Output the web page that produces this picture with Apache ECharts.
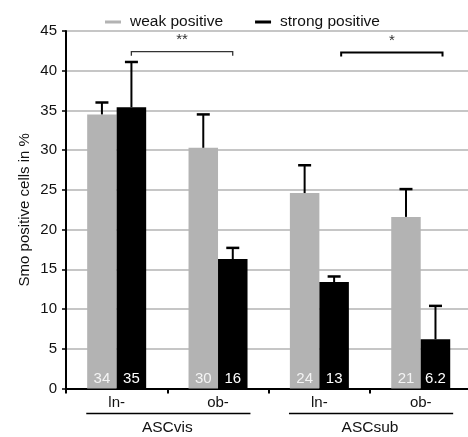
<!DOCTYPE html>
<html><head><meta charset="utf-8">
<script src="https://cdn.jsdelivr.net/npm/echarts@6/dist/echarts.min.js"></script>
<style>html,body{margin:0;padding:0;background:#fff}#c{width:468px;height:437px}</style>
</head><body><div id="c"></div>
<script>
// ---- data ----
const categories = ['ln-', 'ob-', 'ln-', 'ob-'];
const groups = ['ASCvis', 'ASCsub'];
const groupStart = [0, 2];
const groupEnd = [1, 3];
const seriesNames = ['weak positive', 'strong positive'];
const weakValues = [34.5, 30.3, 24.6, 21.6];
const strongValues = [35.4, 16.3, 13.4, 6.2];
const weakErr = [1.5, 4.2, 3.5, 3.5];
const strongErr = [5.7, 1.4, 0.7, 4.2];
const weakLabels = ['34', '30', '24', '21'];
const strongLabels = ['35', '16', '13', '6.2'];
const yMin = 0, yMax = 45, yStep = 5;
const sigFrom = [0, 2];
const sigTo = [1, 3];
const sigLevel = [42.4, 42.3];
const sigText = ['**', '*'];

// ---- styling ----
const FONT = '"Liberation Sans", Arial, sans-serif';
const GRAY = '#b3b3b3';
const BAR_W = 29.5;
const SIG_OFF = [0.145, 0.215];
const SIG_STYLE = [{stroke: '#333', lw: 1.3}, {stroke: '#000', lw: 2}];

const chart = echarts.init(document.getElementById('c'), null, {renderer: 'canvas'});

function errRender(sign) {
  return function (params, api) {
    const c = api.coord([api.value(0), api.value(1)]);
    const t = api.coord([api.value(0), api.value(1) + api.value(2)]);
    const x = c[0] + sign * BAR_W / 2;
    return {type: 'group', children: [
      {type: 'line', shape: {x1: x, y1: c[1], x2: x, y2: t[1]}, style: {stroke: '#000', lineWidth: 2}},
      {type: 'line', shape: {x1: x - 6.5, y1: t[1], x2: x + 6.5, y2: t[1]}, style: {stroke: '#000', lineWidth: 2.5}}
    ]};
  };
}

const option = {
  animation: false,
  backgroundColor: '#fff',
  textStyle: {fontFamily: FONT},
  legend: {
    show: true,
    left: 100, top: 9,
    itemWidth: 16, itemHeight: 3, itemGap: 32,
    icon: 'rect',
    textStyle: {fontSize: 15.5, color: '#111', fontFamily: FONT, padding: [0, 0, 0, 4]},
    data: seriesNames
  },
  grid: {left: 66, right: -3.4, top: 31, bottom: 48.5, containLabel: false, outerBoundsMode: 'none'},
  xAxis: [{
    type: 'category', data: categories, position: 'bottom',
    axisLine: {show: true, lineStyle: {color: '#000', width: 2}},
    axisTick: {show: true, length: 5, lineStyle: {color: '#000', width: 2}, alignWithLabel: false},
    axisLabel: {fontSize: 15, color: '#111', margin: 7, fontFamily: FONT},
    splitLine: {show: false}
  }, {
    type: 'category', data: groups, position: 'bottom', offset: 24,
    axisLine: {show: false}, axisTick: {show: false},
    axisLabel: {fontSize: 15.5, color: '#111', margin: 7, fontFamily: FONT},
    splitLine: {show: false}
  }],
  yAxis: {
    type: 'value', min: yMin, max: yMax, interval: yStep,
    name: 'Smo positive cells in %', nameLocation: 'middle', nameGap: 34, nameMoveOverlap: false,
    nameTextStyle: {fontSize: 15, color: '#111', fontFamily: FONT},
    axisLine: {show: true, lineStyle: {color: '#000', width: 2}},
    axisTick: {show: true, length: 4, lineStyle: {color: '#000', width: 1.5}},
    axisLabel: {fontSize: 15, color: '#111', margin: 9, fontFamily: FONT},
    splitLine: {show: true, lineStyle: {color: '#c6c6c6', width: 2}}
  },
  series: [{
    name: seriesNames[0], type: 'bar', data: weakValues, barWidth: BAR_W, barGap: '0%',
    itemStyle: {color: GRAY},
    label: {show: true, position: 'insideBottom', distance: 2, color: '#f4f4f4', fontSize: 15, fontFamily: FONT,
      formatter: p => weakLabels[p.dataIndex]},
    z: 2
  }, {
    name: seriesNames[1], type: 'bar', data: strongValues, barWidth: BAR_W, barGap: '0%',
    itemStyle: {color: '#000'},
    label: {show: true, position: 'insideBottom', distance: 2, color: '#fff', fontSize: 15, fontFamily: FONT,
      formatter: p => strongLabels[p.dataIndex]},
    z: 2
  }, {
    type: 'custom', name: 'errW', renderItem: errRender(-1), z: 5,
    data: weakValues.map((v, i) => [i, v, weakErr[i]]), encode: {x: 0, y: 1}
  }, {
    type: 'custom', name: 'errS', renderItem: errRender(1), z: 5,
    data: strongValues.map((v, i) => [i, v, strongErr[i]]), encode: {x: 0, y: 1}
  }, {
    type: 'custom', name: 'sig', z: 5, clip: false,
    data: sigFrom.map((f, i) => [f, sigTo[i], sigLevel[i]]), encode: {x: 0, y: 2},
    renderItem: function (params, api) {
      const i = params.dataIndex;
      const band = api.size([1, 0])[0];
      const off = SIG_OFF[i] * band;
      const p1 = api.coord([api.value(0), api.value(2)]);
      const p2 = api.coord([api.value(1), api.value(2)]);
      const x1 = p1[0] + off, x2 = p2[0] + off, y = p1[1];
      const st = SIG_STYLE[i];
      return {type: 'group', children: [
        {type: 'polyline', shape: {points: [[x1, y + 4], [x1, y], [x2, y], [x2, y + 4]]},
          style: {stroke: st.stroke, lineWidth: st.lw, fill: null}},
        {type: 'text', x: (x1 + x2) / 2, y: y - 4,
          style: {text: sigText[i], textAlign: 'center', textVerticalAlign: 'bottom', align: 'center', verticalAlign: 'bottom',
            fill: '#333', font: '15px ' + FONT}}
      ]};
    }
  }, {
    type: 'custom', name: 'groupLines', z: 5, clip: false,
    data: groupStart.map((s, i) => [s, groupEnd[i]]), encode: {x: 0},
    renderItem: function (params, api) {
      const band = api.size([1, 0])[0];
      const a = api.coord([api.value(0), 0]);
      const b = api.coord([api.value(1), 0]);
      const y = a[1] + 25;
      return {type: 'line', shape: {x1: a[0] - 0.3 * band, y1: y, x2: b[0] + 0.32 * band, y2: y},
        style: {stroke: '#000', lineWidth: 1.6}};
    }
  }]
};
chart.setOption(option);
</script>
</body></html>
